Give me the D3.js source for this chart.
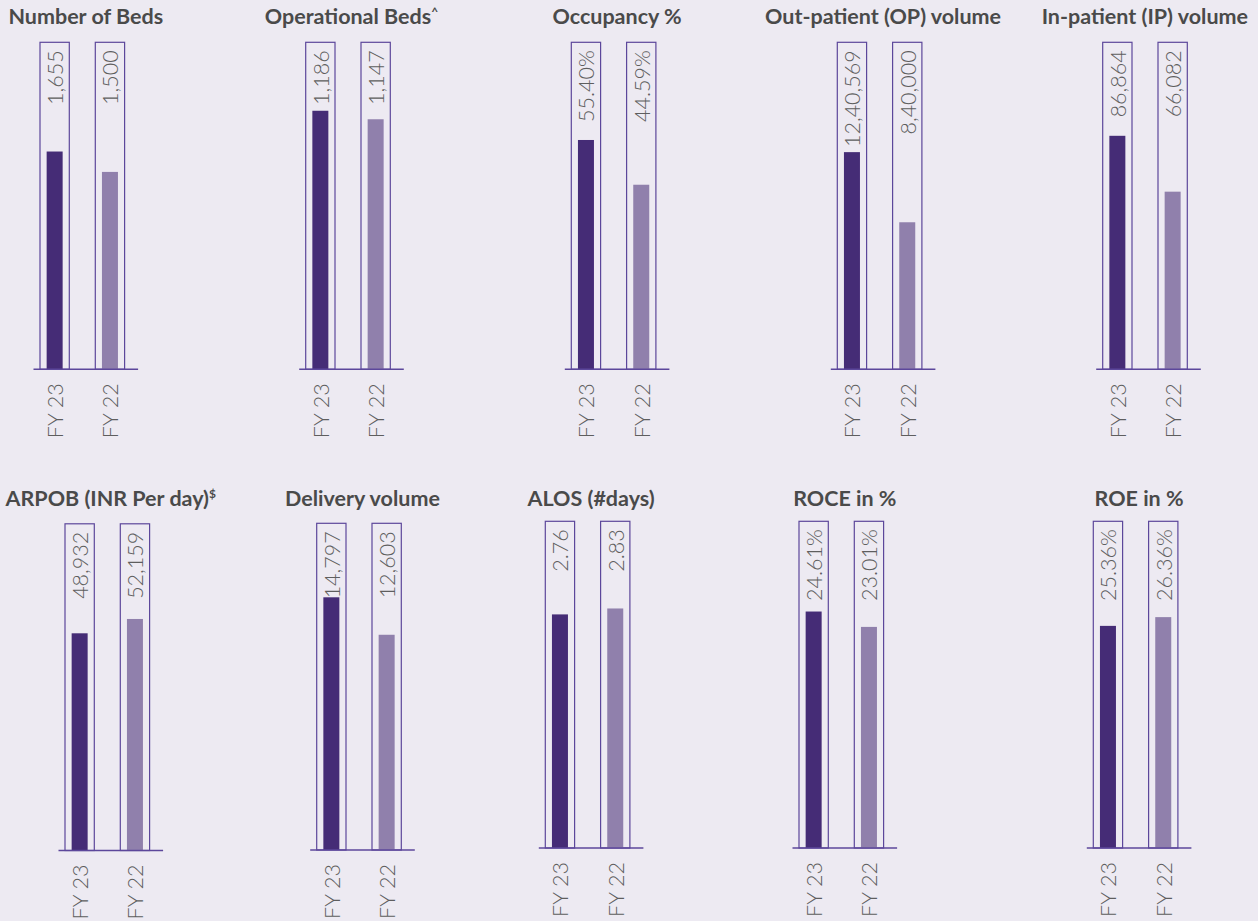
<!DOCTYPE html>
<html>
<head>
<meta charset="utf-8">
<script src="https://cdn.jsdelivr.net/npm/d3@7"></script>
<style>
  html, body { margin: 0; padding: 0; background: #EDEAF2; }
  svg { display: block; }
</style>
</head>
<body>
<svg id="mainSvg" width="1258" height="921"></svg>
<script>
// data
var titles = ["Number of Beds", "Operational Beds", "Occupancy %", "Out-patient (OP) volume", "In-patient (IP) volume",
              "ARPOB (INR Per day)", "Delivery volume", "ALOS (#days)", "ROCE in %", "ROE in %"];
var titleMarks = ["", "^", "", "", "", "$", "", "", "", ""];
var years = ["FY 23", "FY 22"];
var fy23 = [1655, 1186, 55.40, 1240569, 86864, 48932, 14797, 2.76, 24.61, 25.36];
var fy22 = [1500, 1147, 44.59, 840000, 66082, 52159, 12603, 2.83, 23.01, 26.36];
var valueKind = ["count", "count", "pct", "count", "count", "count", "count", "dec", "pct", "pct"];
var scaleMax = [2485, 1500, 79, 1868000, 121650, 73600, 19130, 3.86, 34.0, 37.3];

// layout
var W = 1258;
var boxLeft = [40, 305.7, 571.3, 837.3, 1102.7, 65, 316.7, 545.3, 799, 1093.3];
var boxShift = [0, 0, 0, 0, 0, 2.5, 2, 0, 0, 0];
var rows = [
    {top: 42.3, base: 369.3, titleY: 24},
    {top: 521.3, base: 848, titleY: 506}
];
var boxW = 29.3, step = 55.3, barW = 16;
var colors = ["#452C76", "#9080AC"];
var strokeColor = "#5C479B";

// indian style grouping 12,40,569
function indianFormat(n){
    var s = String(Math.round(n));
    if(s.length <= 3) return s;
    var last = s.slice(-3);
    var rest = s.slice(0, -3);
    rest = rest.replace(/\B(?=(\d{2})+(?!\d))/g, ",");
    return rest + "," + last;
}

function formatValue(v, kind){
    if(kind == "pct") return v.toFixed(2) + "%";
    if(kind == "dec") return v.toFixed(2);
    return indianFormat(v);
}

var svg = d3.select("#mainSvg");

titles.forEach(function(title, p){
    var row = rows[p < 5 ? 0 : 1];
    var top = row.top + boxShift[p];
    var base = row.base + boxShift[p];
    var x0 = boxLeft[p];

    var x = d3.scaleBand()
        .domain(years)
        .range([x0, x0 + step + boxW])
        .paddingInner((step - boxW) / step)
        .paddingOuter(0);

    var y = d3.scaleLinear()
        .domain([0, scaleMax[p]])
        .range([base, top]);

    var panelData = years.map(function(yr, i){
        return {year: yr, value: i == 0 ? fy23[p] : fy22[p], idx: i};
    });

    var g = svg.append("g").attr("class", "panel panel_" + p);

    // outline boxes
    g.selectAll(".outlineBox")
        .data(panelData)
        .enter()
        .append("rect")
        .attr("class", "outlineBox")
        .attr("x", function(d){ return x(d.year); })
        .attr("y", top)
        .attr("width", x.bandwidth())
        .attr("height", base - top)
        .attr("fill", "none")
        .attr("stroke", strokeColor)
        .attr("stroke-width", 1.2);

    // bars
    g.selectAll(".bar")
        .data(panelData)
        .enter()
        .append("rect")
        .attr("class", "bar")
        .attr("x", function(d){ return x(d.year) + (x.bandwidth() - barW) / 2; })
        .attr("y", function(d){ return y(d.value); })
        .attr("width", barW)
        .attr("height", function(d){ return base - y(d.value); })
        .attr("fill", function(d){ return colors[d.idx]; });

    // baseline
    var r = x.range();
    g.append("line")
        .attr("x1", r[0] - 6.5)
        .attr("x2", r[1] + 13.5)
        .attr("y1", base)
        .attr("y2", base)
        .attr("stroke", strokeColor)
        .attr("stroke-width", 1.5);

    // value labels (rotated)
    g.selectAll(".valueLabel")
        .data(panelData)
        .enter()
        .append("text")
        .attr("class", "valueLabel")
        .attr("transform", function(d){
            return "translate(" + (x(d.year) + x.bandwidth() / 2 + 8.3) + "," + (top + 8) + ") rotate(-90)";
        })
        .attr("text-anchor", "end")
        .attr("fill", "#5E5E5E")
        .attr("font-family", "Lato, sans-serif")
        .attr("font-weight", 300)
        .attr("font-size", "21.5px")
        .text(function(d){ return formatValue(d.value, valueKind[p]); });

    // year labels
    g.selectAll(".yearLabel")
        .data(panelData)
        .enter()
        .append("text")
        .attr("class", "yearLabel")
        .attr("transform", function(d){
            return "translate(" + (x(d.year) + x.bandwidth() / 2 + 8.3) + "," + (base + 14) + ") rotate(-90)";
        })
        .attr("text-anchor", "end")
        .attr("fill", "#5E5E5E")
        .attr("font-family", "Lato, sans-serif")
        .attr("font-weight", 300)
        .attr("font-size", "21.5px")
        .text(function(d){ return d.year; });

    // title
    var cx = (r[0] - 6.5 + r[1] + 13.5) / 2;
    var t = g.append("text")
        .attr("class", "panelTitle")
        .attr("x", cx)
        .attr("y", row.titleY)
        .attr("text-anchor", "middle")
        .attr("fill", "#4A4A4A")
        .attr("font-family", "Lato, sans-serif")
        .attr("font-weight", 700)
        .attr("font-size", "21.5px")
        .text(title);
    if(titleMarks[p] != ""){
        t.append("tspan")
            .attr("dy", -8)
            .attr("font-size", "12px")
            .text(titleMarks[p]);
    }
    // keep the title inside the page
    var bb = t.node().getBBox();
    if(bb.x + bb.width > W - 10){
        t.attr("x", cx - (bb.x + bb.width - (W - 10)));
    }
});
</script>
</body>
</html>
